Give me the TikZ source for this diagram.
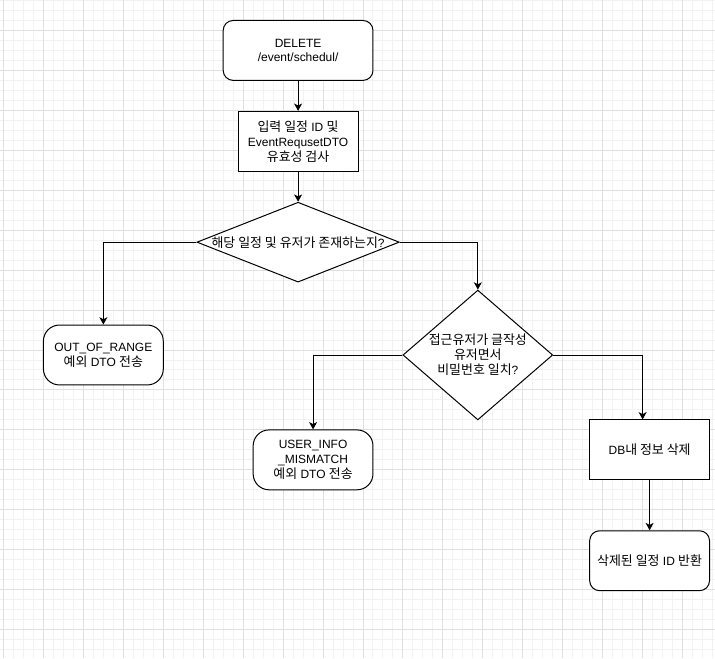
\documentclass[tikz,border=0pt]{standalone}
\usepackage{fontspec}
\setmainfont{Liberation Sans}
\newfontfamily\kr[Scale=1.08]{Noto Sans CJK KR}
\usetikzlibrary{arrows.meta, positioning, shapes.geometric}

\begin{document}
\begin{tikzpicture}[
  x=0.75pt, y=-0.75pt,
  every node/.style={font=\fontsize{9pt}{11.25pt}\selectfont},
  startbox/.style={rectangle, rounded corners=7.5pt, draw=black, line width=0.75pt, fill=white,
                   minimum width=112.5pt, minimum height=45pt, align=center},
  procbox/.style={rectangle, draw=black, line width=0.75pt, fill=white,
                  minimum width=90pt, minimum height=45pt, align=center},
  errbox/.style={rectangle, rounded corners=12pt, draw=black, line width=0.75pt, fill=white,
                 minimum width=90pt, minimum height=45pt, align=center},
  endbox/.style={rectangle, rounded corners=7.5pt, draw=black, line width=0.75pt, fill=white,
                 minimum width=90pt, minimum height=45pt, align=center},
  decision/.style={diamond, draw=black, line width=0.75pt, fill=white, inner sep=0pt},
  minorgrid/.style={draw=black!5, line width=0.75pt},
  majorgrid/.style={draw=black!12, line width=0.75pt},
  flow/.style={-{Stealth[length=5.5pt, width=6pt, inset=1.5pt]}, line width=0.75pt, black}
]
  % background grid
  \fill[white] (0,0) rectangle (715,658);
  \foreach \x in {3,13,...,713} \draw[minorgrid] (\x,0) -- (\x,658);
  \foreach \y in {0,10,...,650} \draw[minorgrid] (0,\y) -- (715,\y);
  \foreach \x in {3,43,...,683} \draw[majorgrid] (\x,0) -- (\x,658);
  \foreach \y in {30,70,...,630} \draw[majorgrid] (0,\y) -- (715,\y);
  \useasboundingbox (0,0) rectangle (715,658);

  \node[startbox] (start) at (298,50) {DELETE\\/event/schedul/};
  \node[procbox, below=22.5pt of start] (check) {{\kr 입력 일정} ID {\kr 및}\\EventRequsetDTO\\{\kr 유효성 검사}};
  \node[decision, minimum width=152pt, minimum height=60pt, below=22.5pt of check,
        label={center:{\kr 해당 일정 및 유저가 존재하는지}?}] (exists) {};

  \node[errbox] (oor) at (103,355) {OUT\_OF\_RANGE\\{\kr 예외} DTO {\kr 전송}};
  \node[decision, minimum width=112.5pt, minimum height=97.5pt,
        label={[align=center]center:{\kr 접근유저가 글작성}\\{\kr 유저면서}\\{\kr 비밀번호 일치}?}] (owner) at (478,355) {};

  \node[errbox] (mismatch) at (313,460) {USER\_INFO\\\_MISMATCH\\{\kr 예외} DTO {\kr 전송}};
  \node[procbox] (del) at (650,450) {DB{\kr 내 정보 삭제}};
  \node[endbox, below=37.5pt of del] (ret) {{\kr 삭제된 일정} ID {\kr 반환}};

  \draw[flow] (start) -- (check);
  \draw[flow] (check) -- (exists);
  \draw[flow] (exists.west) -| (oor.north);
  \draw[flow] (exists.east) -| (owner.north);
  \draw[flow] (owner.west) -| (mismatch.north);
  \draw[flow] (owner.east) -| ([xshift=-5.25pt]del.north);
  \draw[flow] (del) -- (ret);
\end{tikzpicture}
\end{document}
